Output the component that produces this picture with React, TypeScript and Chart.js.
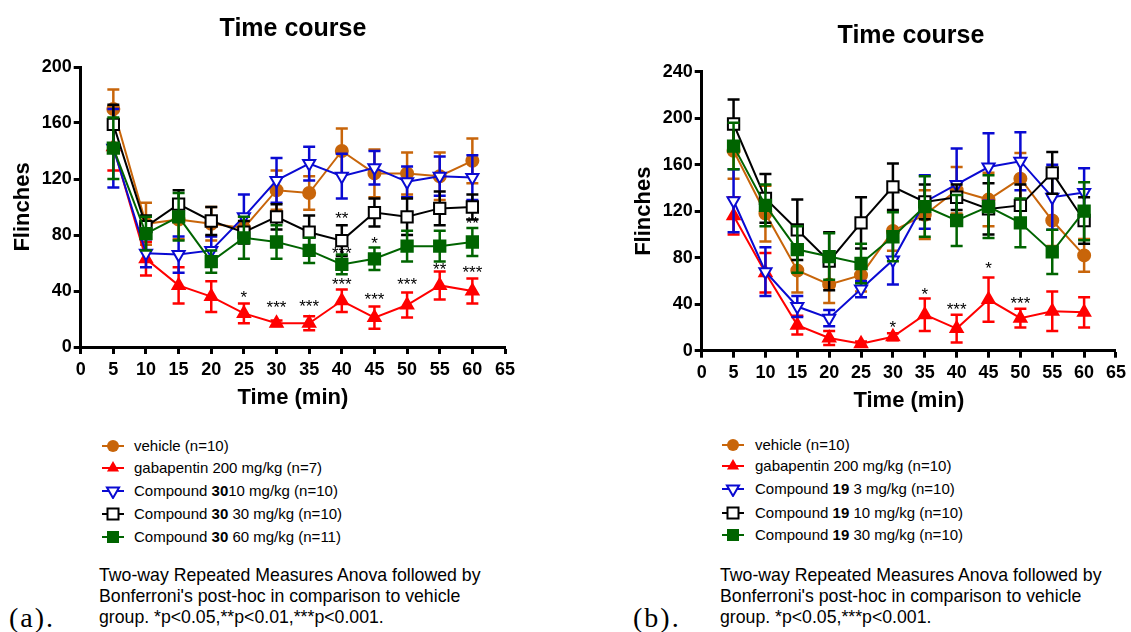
import React, { useEffect, useRef } from 'react';
import { Chart, registerables } from 'chart.js';

Chart.register(...registerables);

// ---------- data ----------
const TIMES = [5, 10, 15, 20, 25, 30, 35, 40, 45, 50, 55, 60];

// Panel (a)
const A_VEHICLE = [170, 88, 91, 88, 85, 112, 110, 140, 124, 124, 122, 133];
const A_VEHICLE_SEM = [14, 15, 14, 12, 8, 14, 12, 16, 17, 15, 17, 16];
const A_GABA = [143, 63, 44, 36, 24, 17, 17, 33, 21, 30, 44, 40];
const A_GABA_SEM = [17, 12, 13, 11, 7, 2, 5, 8, 8, 9, 10, 9];
const A_C10 = [142, 67, 66, 69, 93, 119, 131, 122, 128, 118, 122, 121];
const A_C10_SEM = [28, 10, 13, 10, 16, 16, 12, 16, 12, 11, 14, 16];
const A_C30 = [159, 86, 102, 90, 82, 93, 82, 76, 96, 93, 99, 100];
const A_C30_SEM = [14, 8, 10, 10, 8, 9, 12, 11, 10, 13, 12, 9];
const A_C60 = [142, 81, 93, 61, 78, 75, 69, 59, 63, 72, 72, 75];
const A_C60_SEM = [22, 12, 17, 8, 15, 12, 9, 7, 8, 11, 11, 10];
const A_SIG_X = [25, 30, 35, 40, 40, 40, 45, 45, 50, 55, 60, 60];
const A_SIG_Y = [38.5, 31, 32, 95, 70, 47.5, 76.5, 37, 47.5, 58, 56, 91];
const A_SIG_T = ['*', '***', '***', '**', '***', '***', '*', '***', '***', '**', '***', '**'];

// Panel (b)
const B_VEHICLE = [172, 118, 69, 57, 65, 103, 117, 138, 130, 148, 112, 82];
const B_VEHICLE_SEM = [24, 24, 19, 16, 14, 17, 21, 20, 23, 22, 22, 14];
const B_GABA = [116, 67, 22, 11, 6, 12, 31, 19, 44, 28, 34, 33];
const B_GABA_SEM = [16, 17, 8, 6, 2, 3, 14, 12, 19, 8, 17, 13];
const B_C3 = [129, 68, 38, 28, 53, 78, 128, 143, 158, 163, 132, 136];
const B_C3_SEM = [27, 21, 9, 7, 7, 21, 23, 31, 29, 25, 28, 21];
const B_C10 = [195, 131, 104, 77, 110, 141, 128, 132, 122, 125, 153, 112];
const B_C10_SEM = [21, 21, 26, 25, 22, 20, 15, 11, 22, 18, 18, 20];
const B_C30 = [176, 125, 87, 81, 75, 98, 124, 112, 124, 110, 85, 120];
const B_C30_SEM = [20, 18, 20, 20, 17, 21, 26, 22, 27, 21, 19, 25];
const B_SIG_X = [30, 35, 40, 45, 50];
const B_SIG_Y = [23.5, 52, 39, 74, 44];
const B_SIG_T = ['*', '*', '***', '*', '***'];

// Legend labels
const A_LEGEND = [
  ['vehicle (n=10)', '', ''],
  ['gabapentin 200 mg/kg (n=7)', '', ''],
  ['Compound ', '30', '10 mg/kg (n=10)'],
  ['Compound ', '30', ' 30 mg/kg (n=10)'],
  ['Compound ', '30', ' 60 mg/kg (n=11)'],
];
const B_LEGEND = [
  ['vehicle (n=10)', '', ''],
  ['gabapentin 200 mg/kg (n=10)', '', ''],
  ['Compound ', '19', ' 3 mg/kg (n=10)'],
  ['Compound ', '19', ' 10 mg/kg (n=10)'],
  ['Compound ', '19', ' 30 mg/kg (n=10)'],
];
const FOOT_A = [
  'Two-way Repeated Measures Anova followed by',
  "Bonferroni's post-hoc in comparison to vehicle",
  'group. *p<0.05,**p<0.01,***p<0.001.',
];
const FOOT_B = [
  'Two-way Repeated Measures Anova followed by',
  "Bonferroni's post-hoc in comparison to vehicle",
  'group. *p<0.05,***p<0.001.',
];

// ---------- styles ----------
const SANS = '"Liberation Sans", Arial, Helvetica, sans-serif';
const ORANGE = '#c8650a';
const RED = '#ff0000';
const BLUE = '#0a0ad2';
const BLACK = '#000000';
const GREEN = '#006400';

type Kind = 'circle' | 'tri' | 'dtri' | 'osq' | 'fsq';
const KINDS: Kind[] = ['circle', 'tri', 'dtri', 'osq', 'fsq'];
const COLORS = [ORANGE, RED, BLUE, BLACK, GREEN];

function makeDataset(vals: number[], sems: number[], idx: number) {
  const color = COLORS[idx];
  const kind = KINDS[idx];
  const base: any = {
    data: TIMES.map((t, i) => ({ x: t, y: vals[i] })),
    errors: sems,
    borderColor: color,
    borderWidth: 2,
    pointBorderColor: color,
    pointBorderWidth: 2,
    clip: false,
    order: 5 - idx,
    tension: 0,
  };
  if (kind === 'circle') {
    Object.assign(base, { pointStyle: 'circle', pointRadius: 6, pointBackgroundColor: color });
  } else if (kind === 'tri') {
    Object.assign(base, { pointStyle: 'triangle', pointRadius: 7, pointBackgroundColor: color });
  } else if (kind === 'dtri') {
    Object.assign(base, { pointStyle: 'triangle', pointRotation: 180, pointRadius: 7, pointBackgroundColor: '#ffffff' });
  } else if (kind === 'osq') {
    Object.assign(base, { pointStyle: 'rect', pointRadius: 8, pointBackgroundColor: '#ffffff' });
  } else {
    Object.assign(base, { pointStyle: 'rect', pointRadius: 8, pointBackgroundColor: color });
  }
  base.pointHoverRadius = base.pointRadius;
  return base;
}

const errorBarPlugin = {
  id: 'errorBars',
  beforeDatasetDraw(chart: any, args: any) {
    const ds: any = chart.data.datasets[args.index];
    if (!ds.errors) return;
    const meta = chart.getDatasetMeta(args.index);
    const yScale = chart.scales.y;
    const ctx = chart.ctx;
    ctx.save();
    ctx.strokeStyle = ds.borderColor;
    ctx.lineWidth = 2.5;
    meta.data.forEach((pt: any, i: number) => {
      const v = ds.data[i].y;
      const e = ds.errors[i];
      const x = pt.x;
      const yT = yScale.getPixelForValue(v + e);
      const yB = yScale.getPixelForValue(Math.max(0, v - e));
      ctx.beginPath();
      ctx.moveTo(x, yT);
      ctx.lineTo(x, yB);
      ctx.moveTo(x - 6, yT);
      ctx.lineTo(x + 6, yT);
      ctx.moveTo(x - 6, yB);
      ctx.lineTo(x + 6, yB);
      ctx.stroke();
    });
    ctx.restore();
  },
};

const sigPlugin = {
  id: 'sigMarks',
  beforeDatasetsDraw(chart: any) {
    const opts = chart.options.plugins.sigMarks;
    if (!opts) return;
    const { xs, ys, ts } = opts;
    const ctx = chart.ctx;
    ctx.save();
    ctx.fillStyle = '#000';
    ctx.font = `17px ${SANS}`;
    ctx.textAlign = 'center';
    ctx.textBaseline = 'alphabetic';
    for (let i = 0; i < xs.length; i++) {
      const px = chart.scales.x.getPixelForValue(xs[i]);
      const py = chart.scales.y.getPixelForValue(ys[i]);
      ctx.fillText(ts[i], px, py + 9.5);
    }
    ctx.restore();
  },
};

interface PanelCfg {
  series: number[][];
  sems: number[][];
  yMax: number;
  pad: { left: number; right: number; top: number; bottom: number };
  yWidth: number;
  xHeight: number;
  sig: { xs: number[]; ys: number[]; ts: string[] };
}

function makeConfig(cfg: PanelCfg): any {
  const tickFont = { family: SANS, size: 18, weight: 'bold' as const };
  const titleFont = { family: SANS, size: 22, weight: 'bold' as const };
  const grid = {
    display: true,
    drawOnChartArea: false,
    drawTicks: true,
    tickLength: 7,
    tickWidth: 3,
    tickColor: '#000',
    color: '#000',
  };
  const border = { display: true, width: 3, color: '#000' };
  return {
    type: 'line',
    data: {
      datasets: cfg.series.map((s, i) => makeDataset(s, cfg.sems[i], i)),
    },
    options: {
      responsive: false,
      animation: false,
      events: [],
      layout: { padding: cfg.pad },
      plugins: {
        legend: { display: false },
        tooltip: { enabled: false },
        title: { display: false },
        sigMarks: cfg.sig,
      },
      scales: {
        x: {
          type: 'linear',
          min: 0,
          max: 65,
          ticks: { stepSize: 5, color: '#000', font: tickFont, padding: 5, maxRotation: 0, autoSkip: false },
          grid,
          border,
          title: { display: true, text: 'Time (min)', color: '#000', font: titleFont, padding: 0 },
          afterFit: (s: any) => {
            s.height = cfg.xHeight;
          },
        },
        y: {
          type: 'linear',
          min: 0,
          max: cfg.yMax,
          ticks: { stepSize: 40, color: '#000', font: tickFont, padding: 2 },
          grid,
          border,
          title: { display: true, text: 'Flinches', color: '#000', font: titleFont, padding: 0 },
          afterFit: (s: any) => {
            s.width = cfg.yWidth;
          },
        },
      },
    },
    plugins: [errorBarPlugin, sigPlugin],
  };
}

function ChartCanvas({ cfg, left, width, height }: { cfg: PanelCfg; left: number; width: number; height: number }) {
  const ref = useRef<HTMLCanvasElement | null>(null);
  useEffect(() => {
    if (!ref.current) return;
    const chart = new Chart(ref.current, makeConfig(cfg));
    return () => chart.destroy();
  }, []);
  return (
    <canvas
      ref={ref}
      width={width}
      height={height}
      style={{ position: 'absolute', left, top: 0, width, height }}
    />
  );
}

function MarkerSvg({ kind, color, left, top }: { kind: Kind; color: string; left: number; top: number }) {
  let shape: any = null;
  if (kind === 'circle') shape = <circle cx={12} cy={8} r={6} fill={color} />;
  else if (kind === 'tri') shape = <polygon points="12,1 18.06,11.5 5.94,11.5" fill={color} />;
  else if (kind === 'dtri')
    shape = <polygon points="12,15 18.06,4.5 5.94,4.5" fill="#fff" stroke={color} strokeWidth={2} />;
  else if (kind === 'osq') shape = <rect x={6.5} y={2.5} width={11} height={11} fill="#fff" stroke={color} strokeWidth={2} />;
  else shape = <rect x={6} y={2} width={12} height={12} fill={color} />;
  return (
    <svg width={24} height={16} style={{ position: 'absolute', left, top }}>
      <line x1={1} y1={8} x2={23} y2={8} stroke={color} strokeWidth={2} />
      {shape}
    </svg>
  );
}

function Legend({ labels, markerX, textX, rows }: { labels: string[][]; markerX: number; textX: number; rows: number[] }) {
  return (
    <>
      {labels.map((l, i) => (
        <React.Fragment key={i}>
          <MarkerSvg kind={KINDS[i]} color={COLORS[i]} left={markerX - 12} top={rows[i] - 8} />
          <div
            style={{
              position: 'absolute',
              left: textX,
              top: rows[i] - 9,
              font: `15px ${SANS}`,
              lineHeight: '18px',
              whiteSpace: 'nowrap',
              color: '#000',
            }}
          >
            {l[0]}
            {l[1] ? <b>{l[1]}</b> : null}
            {l[2]}
          </div>
        </React.Fragment>
      ))}
    </>
  );
}

function Foot({ lines, left }: { lines: string[]; left: number }) {
  return (
    <div
      style={{
        position: 'absolute',
        left,
        top: 564.7,
        font: `17.7px ${SANS}`,
        lineHeight: '21px',
        whiteSpace: 'nowrap',
        color: '#000',
      }}
    >
      {lines.map((l, i) => (
        <div key={i}>{l}</div>
      ))}
    </div>
  );
}

function Title({ text, cx, top }: { text: string; cx: number; top: number }) {
  return (
    <div
      style={{
        position: 'absolute',
        left: cx - 150,
        width: 300,
        top,
        textAlign: 'center',
        font: `bold 25px ${SANS}`,
        lineHeight: '30px',
        color: '#000',
      }}
    >
      {text}
    </div>
  );
}

function PanelTag({ text, left }: { text: string; left: number }) {
  return (
    <div
      style={{
        position: 'absolute',
        left,
        top: 604,
        font: '28px "Liberation Serif", "Times New Roman", serif',
        lineHeight: '28px',
        letterSpacing: '2px',
        color: '#000',
        whiteSpace: 'nowrap',
      }}
    >
      {text}
    </div>
  );
}

const CFG_A: PanelCfg = {
  series: [A_VEHICLE, A_GABA, A_C10, A_C30, A_C60],
  sems: [A_VEHICLE_SEM, A_GABA_SEM, A_C10_SEM, A_C30_SEM, A_C60_SEM],
  yMax: 200,
  pad: { left: 10, right: 60, top: 67, bottom: 9 },
  yWidth: 70.7,
  xHeight: 64,
  sig: { xs: A_SIG_X, ys: A_SIG_Y, ts: A_SIG_T },
};

const CFG_B: PanelCfg = {
  series: [B_VEHICLE, B_GABA, B_C3, B_C10, B_C30],
  sems: [B_VEHICLE_SEM, B_GABA_SEM, B_C3_SEM, B_C10_SEM, B_C30_SEM],
  yMax: 240,
  pad: { left: 66, right: 11.2, top: 71.7, bottom: 5.8 },
  yWidth: 70.7,
  xHeight: 63.5,
  sig: { xs: B_SIG_X, ys: B_SIG_Y, ts: B_SIG_T },
};

export default function App() {
  return (
    <div
      style={{
        position: 'absolute',
        left: 0,
        top: 0,
        width: 1131,
        height: 632,
        overflow: 'hidden',
        background: '#fff',
      }}
    >
      <ChartCanvas cfg={CFG_A} left={0} width={565} height={420} />
      <ChartCanvas cfg={CFG_B} left={565} width={566} height={420} />
      <Title text="Time course" cx={293} top={12} />
      <Title text="Time course" cx={911} top={19.3} />
      <Legend labels={A_LEGEND} markerX={113} textX={134} rows={[446, 468, 491, 514, 537]} />
      <Legend labels={B_LEGEND} markerX={733} textX={755} rows={[445, 466, 489, 513, 535]} />
      <Foot lines={FOOT_A} left={99} />
      <Foot lines={FOOT_B} left={720} />
      <PanelTag text="(a)." left={9} />
      <PanelTag text="(b)." left={633} />
    </div>
  );
}
